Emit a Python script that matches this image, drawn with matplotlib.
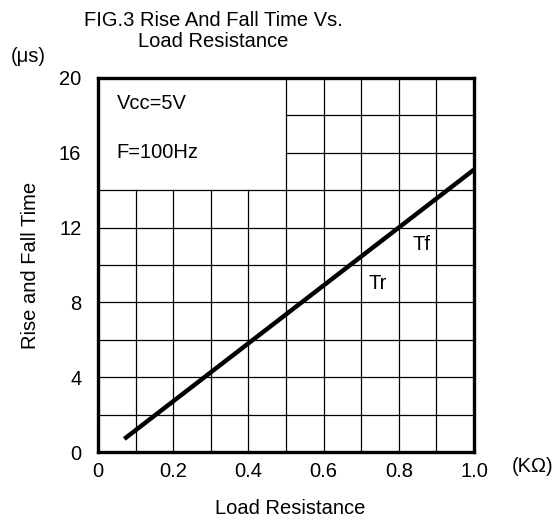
import matplotlib
matplotlib.use('Agg')
from matplotlib import pyplot as plt

plt.rcParams['font.family'] = ['Liberation Sans', 'DejaVu Sans']

# curve (load resistance in kOhm, time in us)
load_k = [0.07, 1.0]
rise_fall_us = [0.7, 15.1]

x_ticks = [0, 0.2, 0.4, 0.6, 0.8, 1.0]
x_tick_labels = ['0', '0.2', '0.4', '0.6', '0.8', '1.0']
y_ticks = [0, 4, 8, 12, 16, 20]

fig = plt.figure(figsize=(5.59, 5.22), dpi=100)
ax = fig.add_axes([98 / 559, 1 - 452 / 522, 376 / 559, 374 / 522])
ax.set_xlim(0, 1.0)
ax.set_ylim(0, 20)

# grid, left blank in the top-left corner where the conditions are written
for i in range(1, 10):
    xv = i / 10
    top = 14 if xv < 0.5 else 20
    ax.plot([xv, xv], [0, top], color='black', linewidth=0.9, zorder=1)
for yv in range(2, 20, 2):
    left = 0.5 if yv > 14 else 0
    ax.plot([left, 1.0], [yv, yv], color='black', linewidth=0.9, zorder=1)

ax.plot(load_k, rise_fall_us, color='black', linewidth=3.2,
        solid_capstyle='butt', zorder=3)

fs = 14.5
ax.text(0.05, 18.65, 'Vcc=5V', fontsize=fs, va='center')
ax.text(0.05, 16.0, 'F=100Hz', fontsize=fs, va='center')
ax.text(0.86, 11.1, 'Tf', fontsize=fs, ha='center', va='center')
ax.text(0.745, 9.0, 'Tr', fontsize=fs, ha='center', va='center')

for s in ax.spines.values():
    s.set_linewidth(2.4)
ax.set_xticks(x_ticks)
ax.set_xticklabels(x_tick_labels)
ax.set_yticks(y_ticks)
ax.tick_params(length=0, labelsize=fs)
ax.tick_params(axis='x', pad=7)
ax.tick_params(axis='y', pad=12)

fig.text(213 / 559, 1 - 31 / 522, 'FIG.3 Rise And Fall Time Vs.\nLoad Resistance',
         fontsize=fs, ha='center', va='center', linespacing=1.1)
fig.text(28 / 559, 1 - 57 / 522, '(\u03bcs)', fontsize=fs, ha='center', va='center')
fig.text(533 / 559, 1 - 467 / 522, '(K\u03a9)', fontsize=fs, ha='center', va='center')
fig.text(31 / 559, 1 - 265 / 522, 'Rise and Fall Time', fontsize=fs,
         ha='center', va='center', rotation=90)
fig.text(290 / 559, 1 - 508 / 522, 'Load Resistance', fontsize=fs,
         ha='center', va='center')

fig.savefig('out.png', dpi=100)
